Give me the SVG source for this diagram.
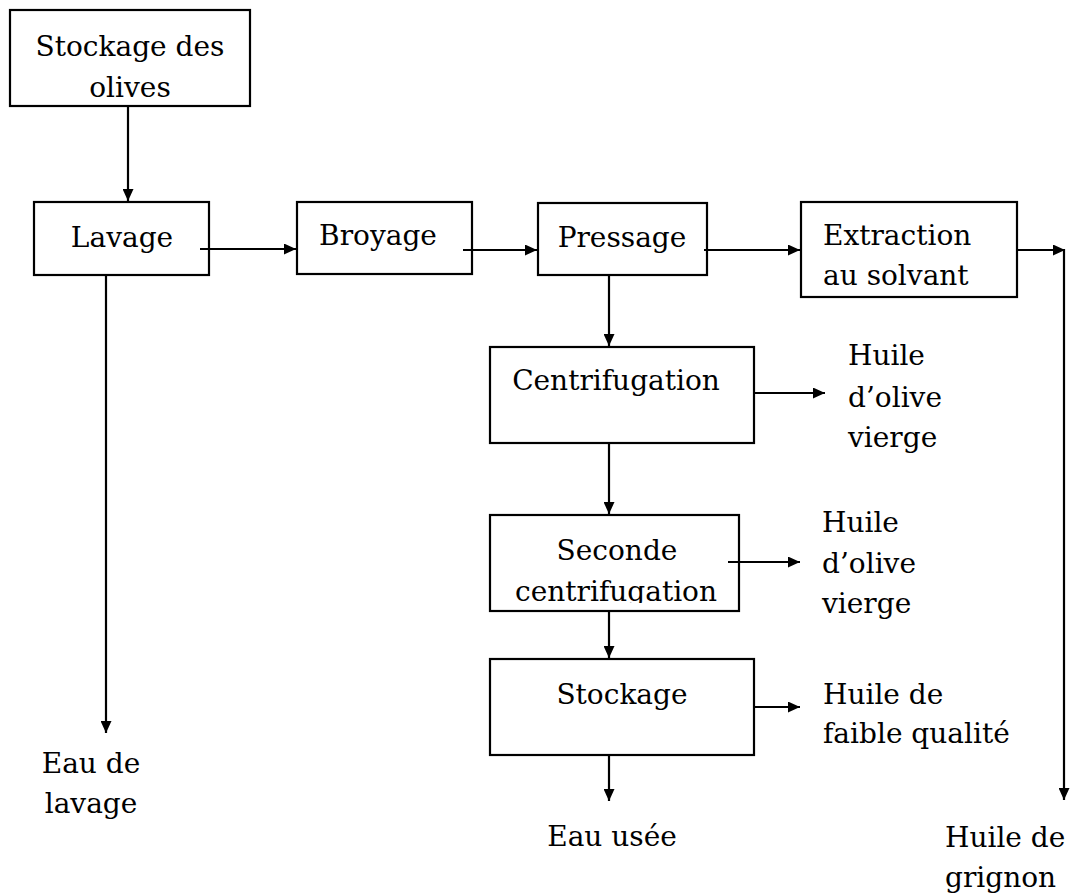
<svg xmlns="http://www.w3.org/2000/svg" width="1072" height="896" viewBox="0 0 1072 896">
  <style>
    .box { fill: #ffffff; stroke: #000000; stroke-width: 2.2; }
    .t { font-family: "DejaVu Serif", "Liberation Serif", "Times New Roman", serif; font-size: 28px; fill: #000000; }
    .m { text-anchor: middle; }
    .line { fill: none; stroke: #000000; stroke-width: 2.2; }
  </style>
  <defs>
    <marker id="ah" markerUnits="userSpaceOnUse" markerWidth="12" markerHeight="11" refX="12" refY="5.5" orient="auto">
      <path d="M0,0 L12,5.5 L0,11 z" fill="#000000"/>
    </marker>
    <clipPath id="clip1"><rect x="10" y="10" width="240" height="87"/></clipPath>
    <clipPath id="clip2"><rect x="490" y="515" width="249" height="88"/></clipPath>
  </defs>
  <rect width="1072" height="896" fill="#ffffff"/>

  <g id="n-stockage-olives">
    <rect class="box" x="10" y="10" width="240" height="96"/>
    <g clip-path="url(#clip1)">
      <text class="t m" x="130" y="56">Stockage des</text>
      <text class="t m" x="130" y="97">olives</text>
    </g>
  </g>
  <g id="n-lavage">
    <rect class="box" x="34" y="202" width="175" height="73"/>
    <text class="t m" x="122" y="247">Lavage</text>
  </g>
  <g id="n-broyage">
    <rect class="box" x="297" y="202" width="175" height="72"/>
    <text class="t m" x="378" y="245">Broyage</text>
  </g>
  <g id="n-pressage">
    <rect class="box" x="538" y="203" width="169" height="72"/>
    <text class="t m" x="622" y="247">Pressage</text>
  </g>
  <g id="n-extraction">
    <rect class="box" x="801" y="202" width="216" height="95"/>
    <text class="t" x="823" y="245">Extraction</text>
    <text class="t" x="823" y="285">au solvant</text>
  </g>
  <g id="n-centrifugation">
    <rect class="box" x="490" y="347" width="264" height="96"/>
    <text class="t m" x="616" y="390">Centrifugation</text>
  </g>
  <g id="n-seconde">
    <rect class="box" x="490" y="515" width="249" height="96"/>
    <g clip-path="url(#clip2)">
      <text class="t m" x="617" y="560">Seconde</text>
      <text class="t m" x="616" y="601">centrifugation</text>
    </g>
  </g>
  <g id="n-stockage">
    <rect class="box" x="490" y="659" width="264" height="96"/>
    <text class="t m" x="622" y="704">Stockage</text>
  </g>

  <g id="l-eau-lavage">
    <text class="t m" x="91" y="773">Eau de</text>
    <text class="t m" x="91" y="813">lavage</text>
  </g>
  <g id="l-huile1">
    <text class="t" x="848" y="365">Huile</text>
    <text class="t" x="848" y="407">d’olive</text>
    <text class="t" x="848" y="447">vierge</text>
  </g>
  <g id="l-huile2">
    <text class="t" x="822" y="532">Huile</text>
    <text class="t" x="822" y="573">d’olive</text>
    <text class="t" x="822" y="613">vierge</text>
  </g>
  <g id="l-huile-faible">
    <text class="t" x="823" y="704">Huile de</text>
    <text class="t" x="823" y="743">faible qualité</text>
  </g>
  <g id="l-eau-usee">
    <text class="t m" x="612" y="846">Eau usée</text>
  </g>
  <g id="l-grignon">
    <text class="t" x="945" y="847">Huile de</text>
    <text class="t" x="945" y="887">grignon</text>
  </g>

  <g id="connectors">
    <line class="line" x1="128" y1="106" x2="128" y2="201" marker-end="url(#ah)"/>
    <line class="line" x1="200" y1="249" x2="296" y2="249" marker-end="url(#ah)"/>
    <line class="line" x1="106" y1="275" x2="106" y2="733" marker-end="url(#ah)"/>
    <line class="line" x1="463" y1="250" x2="537" y2="250" marker-end="url(#ah)"/>
    <line class="line" x1="704" y1="250" x2="800" y2="250" marker-end="url(#ah)"/>
    <line class="line" x1="1017" y1="250" x2="1065" y2="250" marker-end="url(#ah)"/>
    <line class="line" x1="1064" y1="249" x2="1064" y2="800" marker-end="url(#ah)"/>
    <line class="line" x1="609" y1="275" x2="609" y2="346" marker-end="url(#ah)"/>
    <line class="line" x1="753" y1="393" x2="825" y2="393" marker-end="url(#ah)"/>
    <line class="line" x1="609" y1="443" x2="609" y2="514" marker-end="url(#ah)"/>
    <line class="line" x1="728" y1="562" x2="800" y2="562" marker-end="url(#ah)"/>
    <line class="line" x1="609" y1="611" x2="609" y2="658" marker-end="url(#ah)"/>
    <line class="line" x1="754" y1="707" x2="800" y2="707" marker-end="url(#ah)"/>
    <line class="line" x1="609" y1="755" x2="609" y2="801" marker-end="url(#ah)"/>
  </g>
</svg>
